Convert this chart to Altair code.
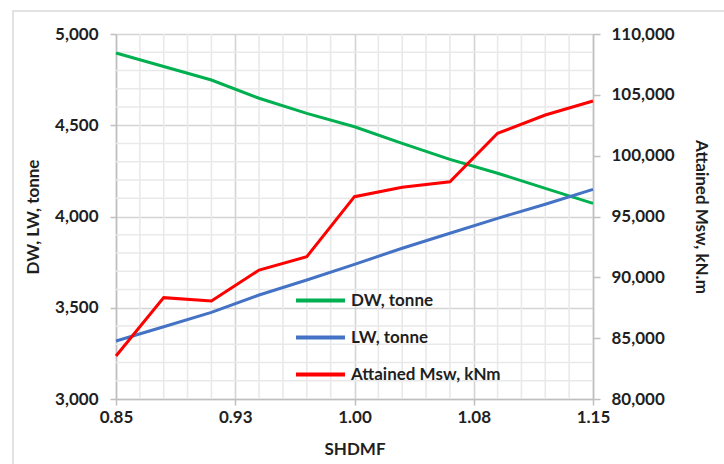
import altair as alt
import pandas as pd

# ---- data ----
shdmf = [0.85, 0.88, 0.91, 0.94, 0.97, 1.00, 1.03, 1.06, 1.09, 1.12, 1.15]
dw = [4896, 4822, 4748, 4648, 4565, 4492, 4401, 4313, 4237, 4154, 4072]
lw = [3318, 3396, 3475, 3570, 3652, 3738, 3826, 3908, 3990, 4067, 4149]
msw = [83530, 88330, 88055, 90600, 91700, 96630, 97400, 97860, 101840, 103340, 104490]

series_names = ["DW, tonne", "LW, tonne", "Attained Msw, kNm"]
series_colors = ["#00b050", "#4472c4", "#ff0000"]

x_major = [0.85, 0.925, 1.0, 1.075, 1.15]
x_minor = [0.865, 0.88, 0.895, 0.91, 0.94, 0.955, 0.97, 0.985,
           1.015, 1.03, 1.045, 1.06, 1.09, 1.105, 1.12, 1.135]
y_left_major = [3000, 3500, 4000, 4500, 5000]
y_left_minor = [3100, 3200, 3300, 3400, 3600, 3700, 3800, 3900,
                4100, 4200, 4300, 4400, 4600, 4700, 4800, 4900]
y_right_ticks = [80000, 85000, 90000, 95000, 100000, 105000, 110000]

FONT = "Lato"
TXT = "#1f1f1f"
MAJOR = "#d4d4d4"
MINOR = "#e9e9e9"

left_df = pd.DataFrame({
    "x": shdmf * 2,
    "value": dw + lw,
    "series": [series_names[0]] * len(shdmf) + [series_names[1]] * len(shdmf),
})
right_df = pd.DataFrame({"x": shdmf, "msw": msw, "series": [series_names[2]] * len(shdmf)})
xminor_df = pd.DataFrame({"x": x_minor})
yminor_df = pd.DataFrame({"value": y_left_minor})

x_scale = alt.Scale(domain=[0.85, 1.15], nice=False, zero=False)
yl_scale = alt.Scale(domain=[3000, 5000], nice=False, zero=False)
yr_scale = alt.Scale(domain=[80000, 110000], nice=False, zero=False)

color = alt.Color(
    "series:N",
    scale=alt.Scale(domain=series_names, range=series_colors),
    sort=series_names,
    legend=alt.Legend(
        orient="none", legendX=178, legendY=240, title=None,
        symbolType="stroke", symbolStrokeWidth=4, symbolSize=2401,
        labelFontSize=17, labelFont=FONT, labelFontWeight="bold", labelColor=TXT,
        rowPadding=2, labelOffset=4, padding=0,
    ),
)

x_axis = alt.Axis(
    values=x_major, labelExpr="format(datum.value + 1e-9, '.2f')",
    labelFlush=False, labelOverlap=False,
    grid=True, gridColor=MAJOR, gridWidth=1.6, domainColor="#bfbfbf", tickColor="#bfbfbf",
    domainWidth=1.5, tickWidth=1.5,
    tickSize=6, labelPadding=4, title="SHDMF", titlePadding=16,
)
yl_axis = alt.Axis(
    values=y_left_major, format=",.0f", grid=True, gridColor=MAJOR, gridWidth=1.6,
    labelFlush=False, labelOverlap=False,
    domainColor="#bfbfbf", tickColor="#bfbfbf", domainWidth=1.5, tickWidth=1.5,
    tickSize=6, labelPadding=12,
    title="DW, LW,  tonne", titlePadding=12,
)
yr_axis = alt.Axis(
    orient="right", values=y_right_ticks, format=",.0f", grid=False,
    labelFlush=False, labelOverlap=False,
    domainColor="#bfbfbf", tickColor="#bfbfbf", domainWidth=1.5, tickWidth=1.5,
    tickSize=7, labelPadding=11,
    title="Attained Msw, kN.m", titlePadding=17,
)

frame = alt.Chart(pd.DataFrame({"f": [0]})).mark_rect(
    fill=None, stroke="#d9d9d9", strokeWidth=1.5
).encode(
    x=alt.value(-103), x2=alt.value(615), y=alt.value(-23), y2=alt.value(440)
)

xminor_rules = alt.Chart(xminor_df).mark_rule(color=MINOR, strokeWidth=1.6).encode(
    x=alt.X("x:Q", scale=x_scale, axis=x_axis)
)
yminor_rules = alt.Chart(yminor_df).mark_rule(color=MINOR, strokeWidth=1.6).encode(
    y=alt.Y("value:Q", scale=yl_scale, axis=yl_axis)
)

left_lines = alt.Chart(left_df).mark_line(strokeWidth=3).encode(
    x=alt.X("x:Q", scale=x_scale, axis=x_axis),
    y=alt.Y("value:Q", scale=yl_scale, axis=yl_axis),
    color=color,
)

right_line = alt.Chart(right_df).mark_line(strokeWidth=3).encode(
    x=alt.X("x:Q", scale=x_scale, axis=x_axis),
    y=alt.Y("msw:Q", scale=yr_scale, axis=yr_axis),
    color=color,
)

inner = alt.layer(frame, xminor_rules, yminor_rules, left_lines)

chart = alt.layer(inner, right_line).resolve_scale(y="independent").properties(
    width=477, height=365,
    autosize=alt.AutoSizeParams(type="none"),
    padding={"left": 116, "top": 34, "right": 131, "bottom": 65},
    background="white",
).configure_axis(
    labelFont=FONT, labelFontSize=17, labelFontWeight="bold", labelColor=TXT,
    titleFont=FONT, titleFontSize=17, titleFontWeight="bold", titleColor=TXT,
).configure_view(stroke=None)

chart.save("out.html", embed_options={"renderer": "svg", "actions": False})
